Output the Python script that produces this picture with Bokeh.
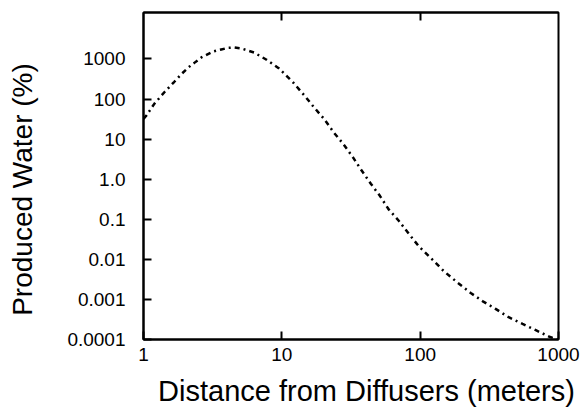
from bokeh.plotting import figure
from bokeh.models import Range1d, FixedTicker, LogAxis, Label
from bokeh.embed import file_html
from bokeh.resources import INLINE

# Data
distance = [1.0, 1.05, 1.2, 1.42, 1.67, 1.88, 2.11, 2.33, 2.62, 3.2, 3.65, 4.1, 4.53,
            5.09, 6.3, 7.7, 9.55, 12.1, 14.5, 17.1, 20.2, 23.8, 27.7, 32.7, 37.3, 44,
            51, 59, 70, 83, 98, 124, 148, 187, 232, 282, 351, 436, 550, 680, 870, 1000]
produced = [32, 39, 77, 150, 270, 420, 615, 800, 1090, 1540, 1730, 1900, 1940,
            1830, 1450, 970, 580, 257, 125, 62, 32, 14.5, 7.7, 3.5, 1.75, 0.77,
            0.39, 0.18, 0.092, 0.043, 0.021, 0.0095, 0.0051, 0.0026, 0.00145, 0.00091,
            0.00058, 0.00036, 0.000245, 0.000173, 0.000115, 0.0001]

x_ticks = [1, 10, 100, 1000]
x_tick_labels = ["1", "10", "100", "1000"]
top_ticks = [10, 100]
y_ticks = [1000, 100, 10, 1, 0.1, 0.01, 0.001, 0.0001]
y_tick_labels = ["1000", "100", "10", "1.0", "0.1", "0.01", "0.001", "0.0001"]
x_title = "Distance from Diffusers (meters)"
y_title = "Produced Water (%)"

FONT = "Liberation Sans"

p = figure(frame_width=415, frame_height=327,
           x_axis_type="log", y_axis_type="log",
           x_range=Range1d(1, 1000), y_range=Range1d(1e-4, 10 ** 4.16),
           output_backend="svg", toolbar_location=None,
           min_border_left=143, min_border_right=24,
           min_border_top=12, min_border_bottom=76)

p.background_fill_color = "white"
p.border_fill_color = "white"
p.outline_line_color = "black"
p.outline_line_width = 2
p.xgrid.grid_line_color = None
p.ygrid.grid_line_color = None

xa = p.xaxis[0]
xa.ticker = FixedTicker(ticks=x_ticks, minor_ticks=[])
xa.major_label_overrides = dict(zip(x_ticks, x_tick_labels))
xa.major_tick_in = 8
xa.major_tick_out = 0
xa.minor_tick_in = 0
xa.minor_tick_out = 0
xa.axis_line_width = 2
xa.major_tick_line_width = 2
xa.major_label_standoff = 8
xa.major_label_text_font = FONT
xa.major_label_text_font_size = "19px"
xa.major_label_text_color = "black"

ya = p.yaxis[0]
ya.ticker = FixedTicker(ticks=y_ticks, minor_ticks=[])
ya.major_label_overrides = dict(zip(y_ticks, y_tick_labels))
ya.major_tick_in = 8
ya.major_tick_out = 0
ya.minor_tick_in = 0
ya.minor_tick_out = 0
ya.axis_line_width = 2
ya.major_tick_line_width = 2
ya.major_label_text_font = FONT
ya.major_label_text_font_size = "19px"
ya.major_label_text_color = "black"
ya.major_label_standoff = 18

top = LogAxis(ticker=FixedTicker(ticks=top_ticks, minor_ticks=[]),
              major_tick_in=8, major_tick_out=0, minor_tick_in=0, minor_tick_out=0,
              axis_line_width=2, major_tick_line_width=2,
              major_label_text_font_size="1px", major_label_text_color=None,
              major_label_standoff=0)
p.add_layout(top, "above")

p.line(distance, produced, line_color="black", line_width=2.5, line_dash="5 4 2 4")

p.add_layout(Label(x=-11, y=150, x_units="screen", y_units="screen", text=y_title,
                   angle=1.5707963267948966,
                   text_align="center", text_baseline="alphabetic",
                   text_font=FONT, text_font_size="28px", text_color="black"), "left")
p.add_layout(Label(x=223, y=5, x_units="screen", y_units="screen", text=x_title,
                   text_align="center", text_baseline="alphabetic",
                   text_font=FONT, text_font_size="29px", text_color="black"), "below")

open("out.html", "w").write(file_html(p, INLINE))
